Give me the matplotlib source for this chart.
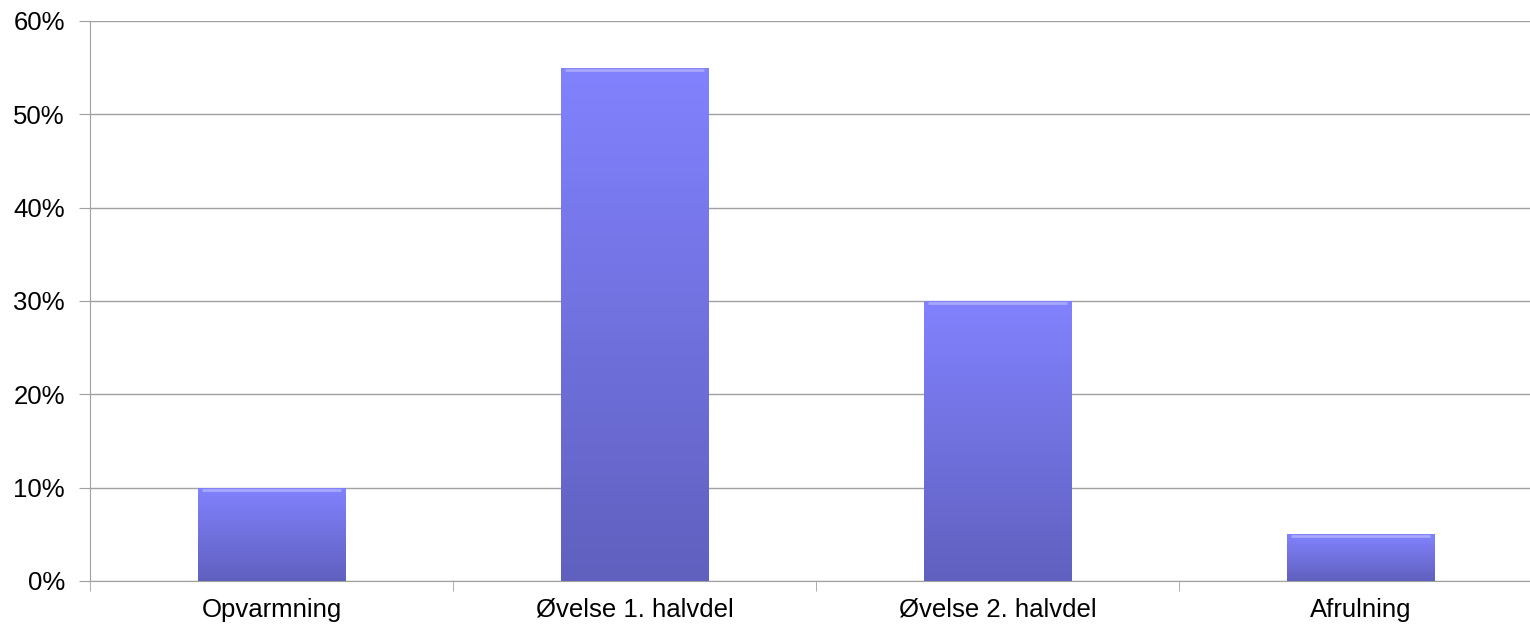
import numpy as np
import matplotlib
matplotlib.use("Agg")
import matplotlib.pyplot as plt
from matplotlib.colors import LinearSegmentedColormap
from matplotlib.ticker import FixedLocator

# # # # # # # # # # data # # # # # # # # # #
categories = ["Opvarmning", "Øvelse 1. halvdel", "Øvelse 2. halvdel", "Afrulning"]
shares = [0.10, 0.55, 0.30, 0.05]
yticks = [0.0, 0.1, 0.2, 0.3, 0.4, 0.5, 0.6]
yticklabels = ["0%", "10%", "20%", "30%", "40%", "50%", "60%"]

plt.rcParams['font.family'] = ['Liberation Sans', 'DejaVu Sans']

fig = plt.figure(figsize=(15.3, 6.29), dpi=100)
ax = fig.add_axes([90/1530, 48/629, 1440/1530, 560/629])

x = np.arange(len(categories))
bars = ax.bar(x, shares, width=0.405, color='#7474e8', zorder=2,
              edgecolor='#5a5ab0', linewidth=0.6)

# vertical gradient inside each bar
cmap = LinearSegmentedColormap.from_list('barfade', ['#6060bf', '#8282ff'])
grad = np.linspace(0, 1, 256).reshape(-1, 1)
for b in bars:
    x0, y0 = b.get_x(), b.get_y()
    w, h = b.get_width(), b.get_height()
    im = ax.imshow(grad, cmap=cmap, origin='lower', aspect='auto',
                   extent=[x0, x0 + w, y0, y0 + h], zorder=3)
    im.set_clip_path(b)
    # light bevel on top edge
    ax.plot([x0 + 0.01, x0 + w - 0.01], [y0 + h - 0.002, y0 + h - 0.002],
            color='#a8a8ff', linewidth=2, zorder=4, solid_capstyle='butt')

ax.set_xlim(-0.5, -0.5 + 1440/363)
ax.set_ylim(0, 0.6)

ax.set_yticks(yticks)
ax.set_yticklabels(yticklabels)
ax.yaxis.grid(True, color='#a0a0a0', linewidth=1.0, zorder=0)
ax.set_axisbelow(True)

ax.set_xticks(x)
ax.set_xticklabels(categories)
ax.xaxis.set_minor_locator(FixedLocator([-0.5, 0.5, 1.5, 2.5]))
ax.tick_params(axis='x', which='major', length=0, pad=12, labelsize=18.5)
ax.tick_params(axis='x', which='minor', length=7, color='#a0a0a0', direction='out')
ax.tick_params(axis='y', length=8, color='#a0a0a0', pad=10, labelsize=18.5)

for side in ['top', 'right']:
    ax.spines[side].set_visible(False)
ax.spines['left'].set_color('#a0a0a0')
ax.spines['bottom'].set_color('#a0a0a0')

fig.savefig('out.png', dpi=100)
